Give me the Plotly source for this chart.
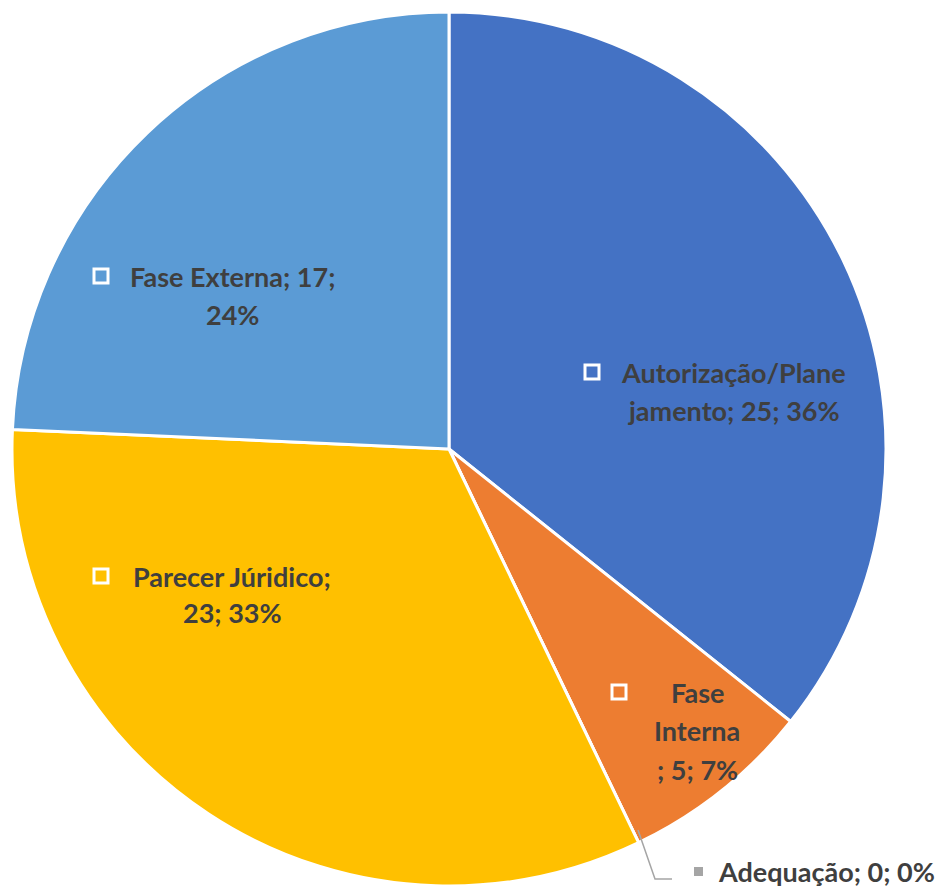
import plotly.graph_objects as go

labels = ["Autorização/Planejamento", "Fase Interna", "Adequação", "Parecer Júridico", "Fase Externa"]
values = [25, 5, 0, 23, 17]
colors = ["#4472C4", "#ED7D31", "#A5A5A5", "#FFC000", "#5B9BD5"]

OFF = 8  # default page body margin
W, H = 949 - OFF, 889 - OFF
def px(x): return (x - OFF) / W
def py(y): return 1 - (y - OFF) / H

fig = go.Figure(go.Pie(
    labels=labels, values=values, sort=False, direction="clockwise", rotation=0,
    marker=dict(colors=colors, line=dict(color="white", width=3)),
    textinfo="none", hoverinfo="label+value+percent",
    domain=dict(x=[px(12), px(886)], y=[py(886), py(12)]),
    showlegend=False,
))

total = sum(values)
pct = [round(v / total * 100) for v in values]

font = dict(family="Lato, Open Sans, sans-serif", size=27, color="#3F3F3F")
# (lines, center x, first line y, line spacing, square x, square y)
label_lines = [
    ([f"Autorização/Plane", f"jamento; {values[0]}; {pct[0]}%"], 733, 372, 38, 592, 372),
    (["Fase", "Interna", f"; {values[1]}; {pct[1]}%"], 697, 692, 38.5, 619, 692),
    ([f"Parecer Júridico;", f"{values[3]}; {pct[3]}%"], 232, 576, 36, 101, 576),
    ([f"Fase Externa; {values[4]};", f"{pct[4]}%"], 232, 276, 38, 101, 276),
]
annotations = []
shapes = []
for i, (lines, cx, y0, dy, sx, sy) in zip([0, 1, 3, 4], label_lines):
    for k, t in enumerate(lines):
        annotations.append(dict(x=px(cx), y=py(y0 + k * dy), xref="paper", yref="paper",
                                text=f"<b>{t}</b>", showarrow=False, font=font,
                                xanchor="center", yanchor="middle"))
    shapes.append(dict(type="rect", xref="paper", yref="paper",
                       x0=px(sx - 7), x1=px(sx + 7), y0=py(sy + 7), y1=py(sy - 7),
                       line=dict(color="white", width=3), fillcolor=colors[i]))

# Adequação label with leader line
annotations.append(dict(x=px(716), y=py(871), xref="paper", yref="paper",
                        text=f"<b>{labels[2]}; {values[2]}; {pct[2]}%</b>", showarrow=False,
                        font=font, xanchor="left", yanchor="middle"))
shapes.append(dict(type="rect", xref="paper", yref="paper",
                   x0=px(694), x1=px(703), y0=py(876), y1=py(867),
                   line=dict(width=0), fillcolor=colors[2]))
shapes.append(dict(type="path", xref="paper", yref="paper",
                   path=f"M {px(638)} {py(830)} L {px(655)} {py(879)} L {px(672)} {py(879)}",
                   line=dict(color="#A5A5A5", width=1.5)))

fig.update_layout(
    width=W, height=H, margin=dict(l=0, r=0, t=0, b=0),
    paper_bgcolor="white", plot_bgcolor="white",
    annotations=annotations, shapes=shapes,
)
fig.write_html("out.html")
